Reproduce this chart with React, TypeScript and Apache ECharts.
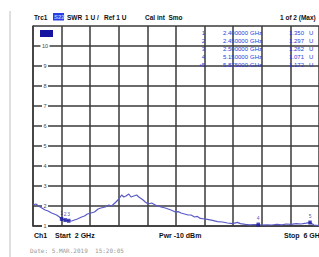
import React, { useEffect, useRef } from "react";
import * as echarts from "echarts";

// Trace: frequency (GHz) and SWR (U)
const freqGHz = [
  2.0, 2.04, 2.08, 2.1, 2.17, 2.21, 2.26, 2.33, 2.37, 2.4, 2.45, 2.5, 2.54, 2.58, 2.62, 2.68, 2.72,
  2.76, 2.81, 2.86, 2.91, 2.95, 3.01, 3.06, 3.1, 3.16, 3.2, 3.24, 3.27, 3.3, 3.34, 3.37, 3.41, 3.45,
  3.48, 3.5, 3.54, 3.57, 3.61, 3.66, 3.71, 3.75, 3.79, 3.85, 3.89, 3.93, 3.99, 4.03, 4.07, 4.12,
  4.17, 4.21, 4.26, 4.3, 4.34, 4.4, 4.44, 4.51, 4.58, 4.65, 4.72, 4.79, 4.86, 4.9, 4.97, 5.03, 5.09,
  5.15, 5.2, 5.27, 5.34, 5.41, 5.48, 5.54, 5.61, 5.68, 5.75, 5.82, 5.875, 5.93, 6.0,
];
const swr = [
  2.05, 2.1, 2.0, 1.95, 1.8, 1.75, 1.65, 1.55, 1.45, 1.35, 1.297, 1.262, 1.25, 1.3, 1.35, 1.45, 1.5,
  1.6, 1.65, 1.7, 1.85, 1.9, 1.95, 2.05, 2.0, 2.2, 2.35, 2.55, 2.45, 2.5, 2.6, 2.45, 2.5, 2.55,
  2.45, 2.4, 2.3, 2.2, 2.1, 2.15, 2.05, 2.0, 1.95, 1.9, 1.85, 1.8, 1.7, 1.72, 1.65, 1.6,
  1.55, 1.55, 1.45, 1.48, 1.38, 1.35, 1.33, 1.28, 1.22, 1.2, 1.15, 1.12, 1.18, 1.12, 1.08, 1.06, 1.07,
  1.071, 1.05, 1.06, 1.05, 1.08, 1.06, 1.1, 1.08, 1.12, 1.1, 1.14, 1.172, 1.05, 1.02,
];

// Markers
const markerNum = ["1", "2", "3", "4", "5"];
const markerFreq = [2.4, 2.45, 2.5, 5.15, 5.875];
const markerSWR = [1.35, 1.297, 1.262, 1.071, 1.172];

// Axis ticks
const yTicks = [1, 2, 3, 4, 5, 6, 7, 8, 9, 10];

const FONT = "Liberation Sans, Arial, sans-serif";

export default function App() {
  const ref = useRef<HTMLDivElement>(null);
  useEffect(() => {
    if (!ref.current) return;
    const chart = echarts.init(ref.current, null, { renderer: "svg" });

    const hdr = (text: string, x: number, y: number, extra: any = {}) => ({
      type: "text",
      z: 10,
      style: {
        text,
        x,
        y,
        fill: "#111",
        fontSize: 6.5,
        fontWeight: "bold",
        fontFamily: FONT,
        textAlign: "left",
        textVerticalAlign: "middle",
        align: "left",
        verticalAlign: "middle",
        ...extra,
      },
    });

    const tableY = [32.5, 40.5, 48.5, 56.5, 64.5];
    const tableEls: any[] = [];
    markerNum.forEach((n, i) => {
      const y = tableY[i];
      const st = { fill: "#2a3ad8", fontWeight: "normal", fontSize: 6 };
      tableEls.push(hdr((i === 4 ? "•" : "") + n, 205, y, { ...st, textAlign: "right", align: "right" }));
      tableEls.push(hdr(markerFreq[i].toFixed(6), 223, y, st));
      tableEls.push(hdr("GHz", 250, y, st));
      tableEls.push(hdr(markerSWR[i].toFixed(3), 289, y, st));
      tableEls.push(hdr("U", 309, y, st));
    });

    const gridLine = { color: "#3a3a3a", width: 1.5 };

    chart.setOption({
      animation: false,
      backgroundColor: "#fff",
      grid: { left: 33, top: 26, width: 290, height: 200, containLabel: false },
      xAxis: {
        type: "value",
        min: 2,
        max: 6,
        interval: 0.4,
        axisLabel: { show: false },
        axisTick: { show: false },
        axisLine: { show: true, lineStyle: gridLine },
        splitLine: { show: true, lineStyle: gridLine },
      },
      yAxis: {
        type: "value",
        min: 1,
        max: 11,
        interval: 1,
        axisTick: { show: false },
        axisLine: { show: true, lineStyle: gridLine },
        splitLine: { show: true, lineStyle: gridLine },
        axisLabel: {
          inside: true,
          margin: 12,
          align: "center",
          fontSize: 5.5,
          fontFamily: FONT,
          color: "#444",
          backgroundColor: "#fff",
          padding: [0, 1.5],
          formatter: (v: number) => (yTicks.includes(v) ? String(v) : ""),
        },
      },
      series: [
        {
          type: "line",
          data: freqGHz.map((f, i) => [f, swr[i]]),
          showSymbol: false,
          lineStyle: { color: "#5a5ac6", width: 1.2 },
          z: 3,
        },
        {
          type: "scatter",
          data: markerFreq.map((f, i) => ({ value: [f, markerSWR[i]], name: markerNum[i] })),
          symbol: "rect",
          symbolSize: [3.5, 4],
          itemStyle: { color: "#1a1aa8" },
          label: {
            show: true,
            position: "top",
            distance: 2,
            formatter: (p: any) => p.name,
            fontSize: 5,
            fontFamily: FONT,
            color: "#1a1aa8",
          },
          z: 4,
        },
      ],
      graphic: [
        {
          type: "line",
          shape: { x1: 10, y1: 11, x2: 10, y2: 257 },
          style: { stroke: "#d4d4d4", lineWidth: 1.5 },
        },
        hdr("Trc1", 34, 17),
        {
          type: "rect",
          z: 10,
          shape: { x: 53, y: 13, width: 11, height: 7.5 },
          style: { fill: "#2a3be8" },
        },
        hdr("S22", 54, 17, { fill: "#b8c4ff", fontSize: 6 }),
        hdr("SWR", 67, 17),
        hdr("1 U /", 85, 17),
        hdr("Ref 1 U", 104, 17),
        hdr("Cal int  Smo", 145, 17),
        hdr("1 of 2 (Max)", 280, 17),
        {
          type: "rect",
          z: 10,
          shape: { x: 40, y: 30, width: 13, height: 7 },
          style: { fill: "#1414a0" },
        },
        ...tableEls,
        hdr("Ch1", 34, 235, { fontSize: 7 }),
        hdr("Start  2 GHz", 55, 235, { fontSize: 7 }),
        hdr("Pwr -10 dBm", 159, 235, { fontSize: 7 }),
        hdr("Stop  6 GHz", 284, 235, { fontSize: 7 }),
        hdr("Date: 5.MAR.2019  15:20:05", 30, 250, {
          fontSize: 6,
          fontWeight: "normal",
          fill: "#999",
          fontFamily: "DejaVu Sans Mono, monospace",
        }),
      ],
    });
    return () => chart.dispose();
  }, []);
  return (
    <div
      ref={ref}
      style={{ position: "fixed", left: 0, top: 0, width: 319, height: 257, background: "#fff" }}
    />
  );
}
